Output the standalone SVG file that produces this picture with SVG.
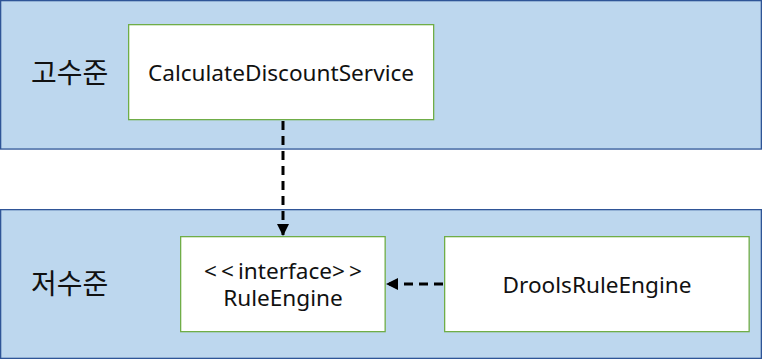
<svg xmlns="http://www.w3.org/2000/svg" width="762" height="360" viewBox="0 0 762 360">
<defs>
<style>
.band{fill:#BDD7EE;stroke:#2F5597;stroke-width:1.3}
.node{fill:#FFFFFF;stroke:#70AD47;stroke-width:1.3}
.lbl{font-family:"Noto Sans CJK KR","Noto Sans",sans-serif;font-size:28px;fill:#111}
.txt{font-family:"Noto Sans","Noto Sans CJK KR",sans-serif;font-size:22.6px;fill:#111;text-anchor:middle}
.dep{fill:none;stroke:#000;stroke-width:3;stroke-dasharray:9,6}
.sp{letter-spacing:4px}
</style>
<marker id="arr" viewBox="0 0 10 10" refX="10" refY="5" markerWidth="4" markerHeight="4" markerUnits="strokeWidth" orient="auto">
<path d="M0,0 L10,5 L0,10 z" fill="#000"/>
</marker>
</defs>
<g id="band-high">
<rect class="band" x="0.65" y="0.65" width="760.7" height="148.4"/>
<text class="lbl" x="31" y="83">고수준</text>
</g>
<g id="band-low">
<rect class="band" x="0.65" y="209.65" width="760.7" height="148.7"/>
<text class="lbl" x="31" y="294">저수준</text>
</g>
<g id="node-service">
<rect class="node" x="128.65" y="24.65" width="305" height="95"/>
<text class="txt" x="281" y="81">CalculateDiscountService</text>
</g>
<g id="node-ruleengine">
<rect class="node" x="180.65" y="236.65" width="204.5" height="95"/>
<text class="txt" x="283" y="279"><tspan class="sp">&lt;&lt;</tspan>interface<tspan class="sp">&gt;</tspan>&gt;<tspan x="283" dy="27">RuleEngine</tspan></text>
</g>
<g id="node-drools">
<rect class="node" x="444.65" y="236.65" width="304.5" height="95"/>
<text class="txt" x="597" y="293">DroolsRuleEngine</text>
</g>
<g id="connectors">
<path class="dep" d="M283,121 L283,236" marker-end="url(#arr)"/>
<path class="dep" d="M443,284 L386,284" marker-end="url(#arr)"/>
</g>
</svg>
